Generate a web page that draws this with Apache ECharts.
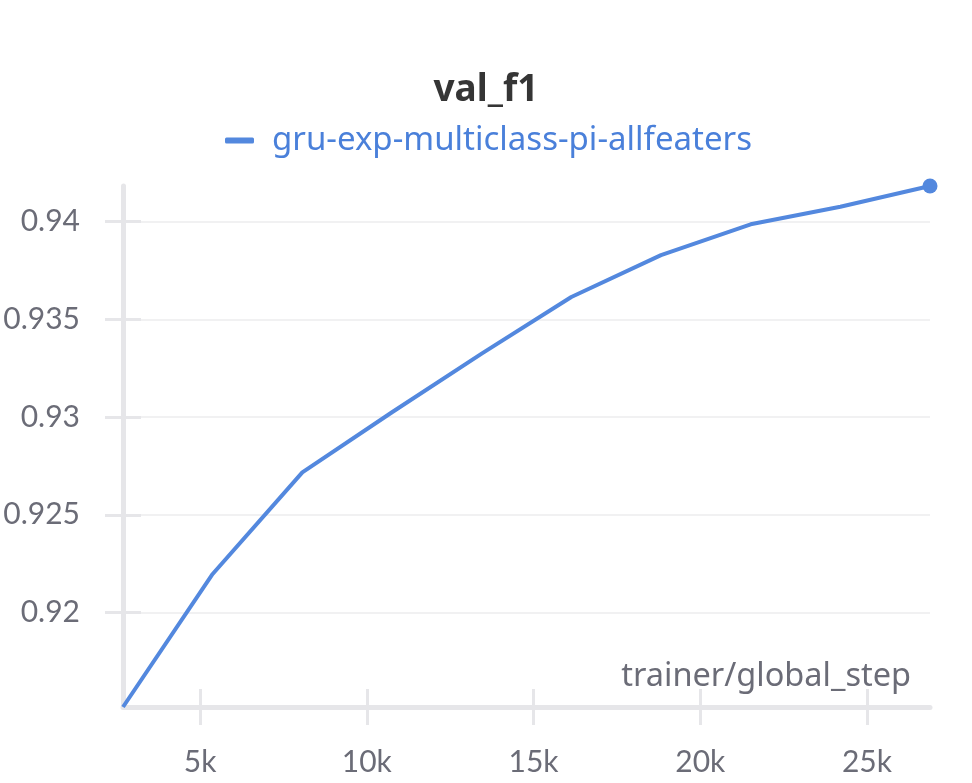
<!DOCTYPE html>
<html>
<head>
<meta charset="utf-8">
<script src="https://cdn.jsdelivr.net/npm/echarts@6/dist/echarts.min.js"></script>
<style>
html,body{margin:0;padding:0;background:#fff;}
#chart{width:972px;height:783px;}
</style>
</head>
<body>
<div id="chart"></div>
<script>
var titleText = 'val_f1';
var seriesName = 'gru-exp-multiclass-pi-allfeaters';
var xName = 'trainer/global_step';
var steps = [2689, 5378, 8067, 10756, 13445, 16134, 18823, 21512, 24201, 26890];
var valF1 = [0.91516, 0.92197, 0.92717, 0.93025, 0.93325, 0.93615, 0.93829, 0.93987, 0.94077, 0.94183];
var xTicks = [5000, 10000, 15000, 20000, 25000];
var yTicks = [0.92, 0.925, 0.93, 0.935, 0.94];

var lineColor = '#5388de';
var axisColor = '#e6e6e9';
var gridColor = '#ececee';
var labelColor = '#6b6c77';
var tickFont = 'Lato, "Noto Sans", sans-serif';
var textFont = '"Noto Sans", Lato, sans-serif';

var data = steps.map(function (s, i) {
  var item = { value: [s, valF1[i]] };
  if (i === steps.length - 1) {
    item.symbol = 'circle';
    item.symbolSize = 15;
  }
  return item;
});

var chart = echarts.init(document.getElementById('chart'), null, { renderer: 'canvas' });
var xMin = Math.min.apply(null, steps), xMax = Math.max.apply(null, steps);
var yMin = Math.min.apply(null, valF1), yMax = Math.max.apply(null, valF1);

chart.setOption({
  animation: false,
  backgroundColor: '#ffffff',
  title: {
    text: titleText,
    left: 'center', top: 72, padding: 0,
    textStyle: { fontFamily: textFont, fontSize: 37, fontWeight: 'bold', color: '#353535' }
  },
  legend: {
    data: [{ name: seriesName, icon: 'roundRect' }],
    left: 225, top: 124, padding: 0,
    itemWidth: 29, itemHeight: 6,
    textStyle: { fontFamily: textFont, fontSize: 33, color: '#4a80da', padding: [0, 0, 0, 13] }
  },
  grid: { left: 123, right: 42, top: 186, bottom: 76, containLabel: false, outerBoundsMode: 'none' },
  xAxis: [{
    type: 'value', min: xMin, max: xMax,
    name: xName, nameLocation: 'end', nameGap: 0,
    nameTextStyle: { fontFamily: textFont, fontSize: 32.5, color: labelColor, align: 'right', verticalAlign: 'bottom', padding: [0, 19, 14, 0] },
    axisLine: { show: true, lineStyle: { color: axisColor, width: 5 } },
    axisTick: { show: true, length: 18, customValues: xTicks, lineStyle: { color: axisColor, width: 3 } },
    axisLabel: { customValues: xTicks, margin: 40, fontFamily: tickFont, fontSize: 30, color: labelColor,
      formatter: function (v) { return (v / 1000) + 'k'; } },
    splitLine: { show: false }
  }, {
    type: 'value', min: xMin, max: xMax, position: 'bottom',
    axisLine: { show: false },
    axisTick: { show: true, inside: true, length: 18, customValues: xTicks, lineStyle: { color: axisColor, width: 3 } },
    axisLabel: { show: false },
    splitLine: { show: false }
  }],
  yAxis: [{
    type: 'value', min: yMin, max: yMax,
    axisLine: { show: true, lineStyle: { color: axisColor, width: 5 } },
    axisTick: { show: true, length: 18, customValues: yTicks, lineStyle: { color: axisColor, width: 3 } },
    axisLabel: { customValues: yTicks, margin: 43, fontFamily: tickFont, fontSize: 30, color: labelColor,
      formatter: function (v) { return String(+v.toFixed(3)); } },
    splitLine: { show: true, lineStyle: { color: gridColor, width: 1.5 } }
  }, {
    type: 'value', min: yMin, max: yMax, position: 'left',
    axisLine: { show: false },
    axisTick: { show: true, inside: true, length: 18, customValues: yTicks, lineStyle: { color: axisColor, width: 3 } },
    axisLabel: { show: false },
    splitLine: { show: false }
  }],
  series: [{
    name: seriesName,
    type: 'line',
    xAxisIndex: 0, yAxisIndex: 0,
    data: data,
    symbol: 'none',
    showSymbol: true,
    clip: false,
    lineStyle: { color: lineColor, width: 4 },
    itemStyle: { color: lineColor },
    emphasis: { disabled: true }
  }]
});
</script>
</body>
</html>
